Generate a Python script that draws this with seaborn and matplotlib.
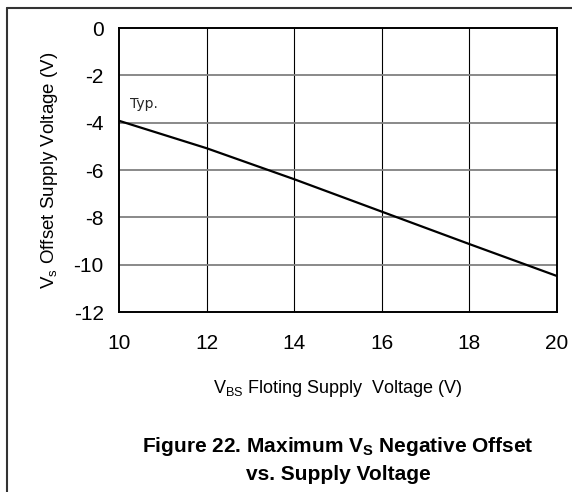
import matplotlib
matplotlib.use('Agg')
import matplotlib.pyplot as plt
import matplotlib.lines as mlines
import seaborn as sns
import pandas as pd

# data
vbs = [10, 12, 14, 16, 18, 20]
vs_offset = [-3.92, -5.08, -6.39, -7.76, -9.13, -10.48]
x_ticks = [10, 12, 14, 16, 18, 20]
y_ticks = [0, -2, -4, -6, -8, -10, -12]

df = pd.DataFrame({'VBS': vbs, 'VS': vs_offset})

sns.set_style("white")
plt.rcParams['font.family'] = ['Liberation Sans', 'DejaVu Sans']
plt.rcParams['axes.unicode_minus'] = False
plt.rcParams['mathtext.fontset'] = 'custom'
plt.rcParams['mathtext.rm'] = 'Liberation Sans'
plt.rcParams['mathtext.bf'] = 'Liberation Sans:bold'

fig = plt.figure(figsize=(5.72, 4.92), dpi=100)
ax = fig.add_axes([119 / 572, 1 - 312 / 492, (557 - 119) / 572, (312 - 28) / 492])

sns.lineplot(data=df, x='VBS', y='VS', ax=ax, color='black', linewidth=1.6)

ax.set_xlim(10, 20)
ax.set_ylim(-12, 0)
ax.set_xticks(x_ticks)
ax.set_yticks(y_ticks)
ax.tick_params(axis='both', length=0, labelsize=15, labelcolor='black')
ax.tick_params(axis='x', pad=16)
ax.tick_params(axis='y', pad=11)

# grid: black verticals, grey horizontals
for xv in x_ticks[1:-1]:
    ax.axvline(xv, color='black', linewidth=0.8, zorder=0)
for yv in y_ticks[1:-1]:
    ax.axhline(yv, color='#808080', linewidth=1.3, zorder=0)

for sp in ax.spines.values():
    sp.set_color('black')
    sp.set_linewidth(1.4)

ax.set_xlabel(r'V$_{\mathregular{BS}}$ Floting Supply  Voltage (V)', fontsize=13,
              color='black', labelpad=18)
ax.set_ylabel(r'V$_{\mathregular{s}}$ Offset Supply Voltage (V)', fontsize=13.5,
              color='black', labelpad=10)

ax.text(10.25, -3.2, 'Typ.', fontsize=10, family=['DejaVu Sans'], ha='left', va='center')

fig.text(338 / 572, 1 - 447 / 492, r'Figure 22. Maximum V$_{\mathbf{S}}$ Negative Offset',
         ha='center', va='center', fontsize=15, fontweight='bold', color='black')
fig.text(338 / 572, 1 - 474 / 492, 'vs. Supply Voltage',
         ha='center', va='center', fontsize=15, fontweight='bold', color='black')

# partial frame around the figure (top and left edges)
fig.add_artist(mlines.Line2D([7 / 572, 1], [1 - 8 / 492, 1 - 8 / 492],
                             color='#333333', linewidth=1.5, transform=fig.transFigure))
fig.add_artist(mlines.Line2D([7 / 572, 7 / 572], [0, 1 - 8 / 492],
                             color='#333333', linewidth=1.5, transform=fig.transFigure))

fig.savefig('out.png', dpi=100)
plt.close(fig)
